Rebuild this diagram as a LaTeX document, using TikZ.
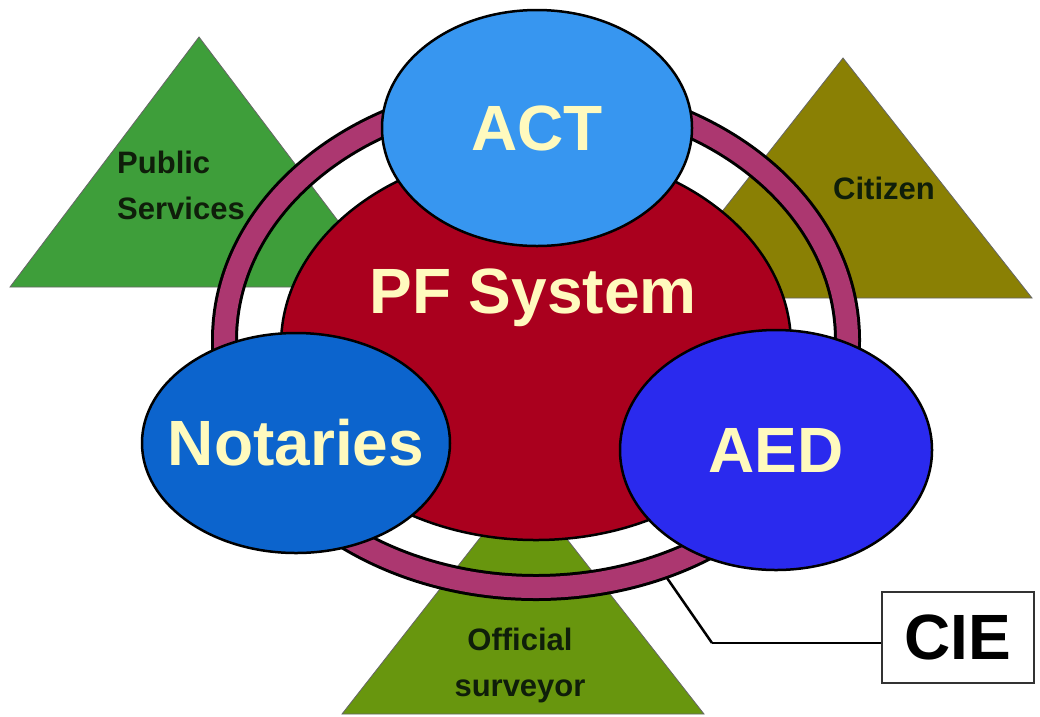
\documentclass[tikz,border=0pt]{standalone}
\usepackage{fontspec}
\setmainfont{Liberation Sans}
\usepackage{xcolor}
\usetikzlibrary{positioning, shapes.geometric}

\definecolor{pubgreen}{RGB}{62,158,58}
\definecolor{citolive}{RGB}{138,128,4}
\definecolor{survgreen}{RGB}{104,150,14}
\definecolor{ringmag}{RGB}{172,55,112}
\definecolor{pfred}{RGB}{170,0,30}
\definecolor{actblue}{RGB}{55,150,240}
\definecolor{notblue}{RGB}{12,100,205}
\definecolor{aedblue}{RGB}{42,42,238}
\definecolor{cream}{RGB}{255,250,190}
\definecolor{triink}{RGB}{15,30,10}

\begin{document}
\begin{tikzpicture}[
			x=1pt, y=-1pt,
			blob/.style={
				ellipse,
				draw=black,
				line width=2.5pt,
				inner sep=0pt
			},
			bigtext/.style={
				text=cream,
				inner sep=0pt,
				font=\fontsize{64}{64}\selectfont\bfseries
			},
			tri/.style={draw=black!60, line width=0.8pt},
			trilabel/.style={
				text=triink,
				inner sep=0pt,
				font=\fontsize{31}{46}\selectfont\bfseries
			},
			wire/.style={draw=black, line width=2.5pt}
			]
			
			\useasboundingbox (0,0) rectangle (1040,716);
			
			\filldraw[tri, fill=pubgreen] (10,287) -- (199,37) -- (388,287) -- cycle;
			\filldraw[tri, fill=citolive] (654,298) -- (843,58) -- (1032,298) -- cycle;
			\filldraw[tri, fill=survgreen] (342,714) -- (523,483) -- (704,714) -- cycle;
			
			\node[trilabel, align=left, anchor=west] (pub) at (117,185) {Public\\Services};
			\node[trilabel] (cit) at (884,188) {Citizen};
			\node[trilabel, align=center] (surv) at (520,665) {Official\\surveyor};
			
			\coordinate (tap) at (667,578);
			\coordinate (elbow) at (712,643);
			\draw[wire] (tap) -- (elbow);
			
			\node[ellipse, draw=black, line width=3pt, double=ringmag, double distance=21pt,
				minimum width=623, minimum height=495, inner sep=0pt] (ring) at (536,340) {};
			
			\node[blob, fill=pfred, minimum width=510, minimum height=390] (pf) at (536,345) {};
			\node[bigtext] (pflabel) at (533,298) {PF System};
			
			\node[blob, fill=actblue, minimum width=310, minimum height=236,
				label={[bigtext]center:ACT}] (act) at (537,128) {};
			\node[blob, fill=notblue, minimum width=308, minimum height=220,
				label={[bigtext]center:Notaries}] (not) at (296,443) {};
			\node[blob, fill=aedblue, minimum width=312, minimum height=240,
				label={[bigtext]center:AED}] (aed) at (776,450) {};
			
			\node[draw=black!80, line width=1.5pt, minimum width=152, minimum height=91,
				font=\fontsize{64}{64}\selectfont\bfseries] (cie) at (958,637.5) {CIE};
			\draw[wire] (elbow) -- (elbow -| cie.west);
			
		\end{tikzpicture}
\end{document}
